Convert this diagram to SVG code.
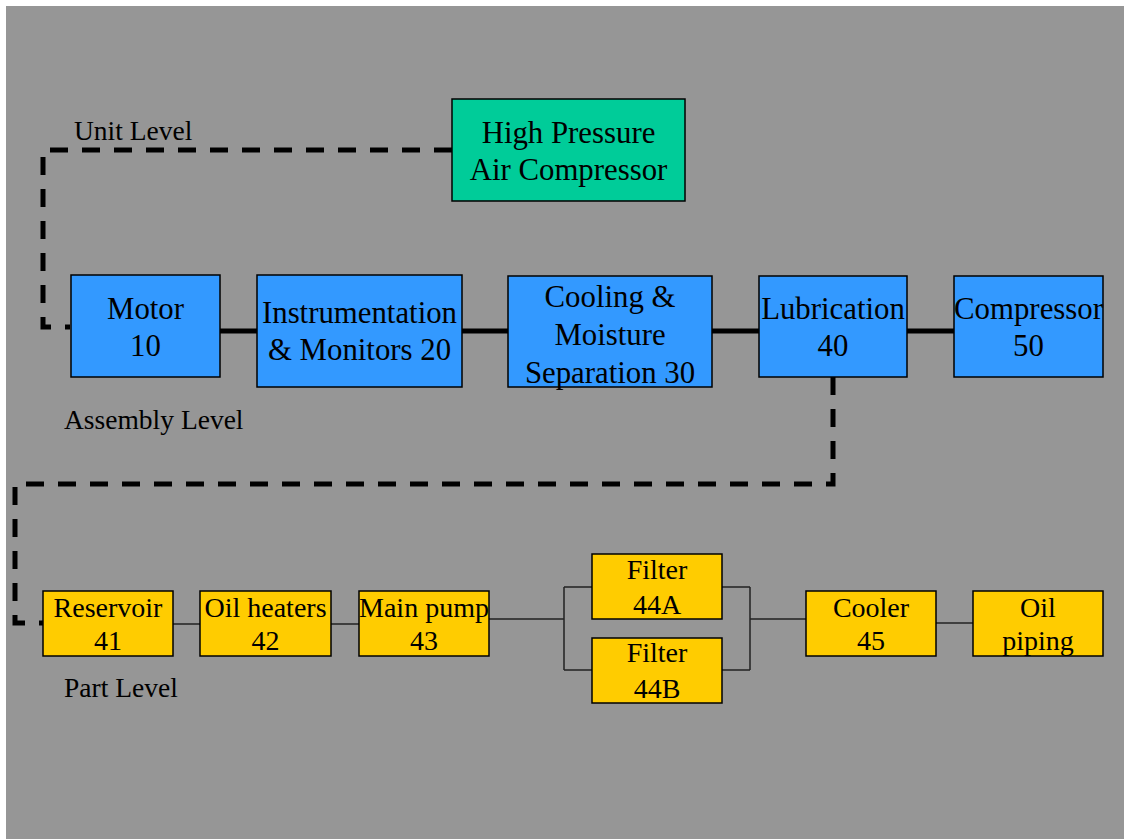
<svg xmlns="http://www.w3.org/2000/svg" width="1124" height="839" viewBox="0 0 1124 839">
  <style>
    .box { stroke: #000; stroke-width: 1.5; }
    .unit { fill: #00CC99; }
    .asm { fill: #3399FF; }
    .part { fill: #FFCC00; }
    text { font-family: 'Liberation Serif', Tinos, 'Times New Roman', Times, serif; fill: #000; text-anchor: middle; }
    .big { font-size: 30.8px; }
    .small { font-size: 28px; }
    .lvl { font-size: 27.5px; text-anchor: start; }
    .dash { fill: none; stroke: #000; stroke-width: 5; stroke-dasharray: 18 14; }
    .thick { fill: none; stroke: #000; stroke-width: 5; }
    .thin { fill: none; stroke: #222; stroke-width: 1.5; }
  </style>

  <rect x="6" y="6" width="1118" height="833" fill="#969696"/>

  <!-- level labels -->
  <text class="lvl" x="74" y="140">Unit Level</text>
  <text class="lvl" x="64" y="429">Assembly Level</text>
  <text class="lvl" x="64" y="697">Part Level</text>

  <g id="connectors">
    <!-- level links -->
    <path class="dash" d="M452,150 H43 V327 H70"/>
    <path class="dash" d="M833,377 V484 H15 V623 H43"/>
    <!-- assembly chain -->
    <path class="thick" d="M220,331 H257 M462,331 H508 M712,331 H759 M907,331 H954"/>
    <!-- part chain -->
    <path class="thin" d="M173,624 H200 M331,624 H359"/>
    <path class="thin" d="M489,619 H564 M564,587 V670 M564,587 H592 M564,670 H592"/>
    <path class="thin" d="M722,587 H750 M722,670 H750 M750,587 V670 M750,619 H806"/>
    <path class="thin" d="M936,623 H973"/>
  </g>

  <g id="hpac">
    <rect class="box unit" x="452" y="99" width="233" height="102"/>
    <text class="big" x="568.5" y="143">High Pressure</text>
    <text class="big" x="568.5" y="180">Air Compressor</text>
  </g>

  <g id="motor">
    <rect class="box asm" x="71" y="275" width="149" height="102"/>
    <text class="big" x="145.5" y="319">Motor</text>
    <text class="big" x="145.5" y="356">10</text>
  </g>
  <g id="instrumentation">
    <rect class="box asm" x="257" y="275" width="205" height="112"/>
    <text class="big" x="359.5" y="323">Instrumentation</text>
    <text class="big" x="359.5" y="360">&amp; Monitors 20</text>
  </g>
  <g id="cooling">
    <rect class="box asm" x="508" y="276" width="204" height="111"/>
    <text class="big" x="610" y="307">Cooling &amp;</text>
    <text class="big" x="610" y="345">Moisture</text>
    <text class="big" x="610" y="383">Separation 30</text>
  </g>
  <g id="lubrication">
    <rect class="box asm" x="759" y="276" width="148" height="101"/>
    <text class="big" x="833" y="319">Lubrication</text>
    <text class="big" x="833" y="356">40</text>
  </g>
  <g id="compressor">
    <rect class="box asm" x="954" y="276" width="149" height="101"/>
    <text class="big" x="1028.5" y="319">Compressor</text>
    <text class="big" x="1028.5" y="356">50</text>
  </g>

  <g id="reservoir">
    <rect class="box part" x="43" y="591" width="130" height="65"/>
    <text class="small" x="108" y="617">Reservoir</text>
    <text class="small" x="108" y="650">41</text>
  </g>
  <g id="heaters">
    <rect class="box part" x="200" y="591" width="131" height="65"/>
    <text class="small" x="265.5" y="617">Oil heaters</text>
    <text class="small" x="265.5" y="650">42</text>
  </g>
  <g id="pump">
    <rect class="box part" x="359" y="591" width="130" height="65"/>
    <text class="small" x="424" y="617">Main pump</text>
    <text class="small" x="424" y="650">43</text>
  </g>
  <g id="filterA">
    <rect class="box part" x="592" y="554" width="130" height="65"/>
    <text class="small" x="657" y="579">Filter</text>
    <text class="small" x="657" y="614">44A</text>
  </g>
  <g id="filterB">
    <rect class="box part" x="592" y="638" width="130" height="65"/>
    <text class="small" x="657" y="662">Filter</text>
    <text class="small" x="657" y="698">44B</text>
  </g>
  <g id="cooler">
    <rect class="box part" x="806" y="591" width="130" height="65"/>
    <text class="small" x="871" y="617">Cooler</text>
    <text class="small" x="871" y="650">45</text>
  </g>
  <g id="piping">
    <rect class="box part" x="973" y="591" width="130" height="65"/>
    <text class="small" x="1038" y="617">Oil</text>
    <text class="small" x="1038" y="650">piping</text>
  </g>
</svg>
